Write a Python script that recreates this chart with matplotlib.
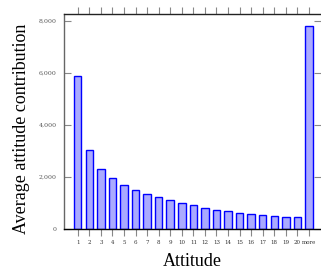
import matplotlib
matplotlib.use("Agg")
import matplotlib.pyplot as plt
from matplotlib.ticker import FuncFormatter

categories = [str(i) for i in range(1, 21)] + ["more"]
values = [5900, 3050, 2320, 1960, 1705, 1510, 1345, 1230, 1100, 1000,
          910, 820, 745, 680, 615, 565, 535, 500, 465, 450, 7810]
yticks = [0, 2000, 4000, 6000, 8000]

fig = plt.figure(figsize=(3.21, 2.68), dpi=100)
ax = fig.add_axes([63.5 / 321, 39 / 268, 1 - 63.5 / 321, 215 / 268])

x = list(range(len(categories)))
ax.bar(x, values, width=0.65, color="#aaaaff", edgecolor="#0000ff", linewidth=1.0)

ax.set_xlim(-1.23, 21.04)
ax.set_ylim(0, 8270)

ax.set_xticks(x)
ax.set_xticklabels(categories, family="DejaVu Serif", fontsize=4)
ax.set_yticks(yticks)
ax.yaxis.set_major_formatter(FuncFormatter(lambda v, p: f"{int(v):,}"))
for lbl in ax.get_yticklabels():
    lbl.set_family("DejaVu Serif")
    lbl.set_fontsize(4.5)

ax.tick_params(axis="x", direction="out", length=5, width=0.8, color="#888888",
               top=True, pad=3, labelcolor="#333333")
ax.tick_params(axis="y", direction="in", length=5, width=0.8, color="#888888",
               right=True, pad=5, labelcolor="#555555")

ax.spines["right"].set_visible(False)
ax.spines["left"].set_color("#666666")
ax.spines["bottom"].set_color("#000000")
ax.spines["top"].set_color("#222222")
for s in ["left", "bottom", "top"]:
    ax.spines[s].set_linewidth(1.0)

fig.text(192.5 / 321, 2.5 / 268, "Attitude", family="Liberation Serif", fontsize=13,
         ha="center", va="baseline")
fig.text(26 / 321, (268 - 129) / 268, "Average attitude contribution",
         family="Liberation Serif", fontsize=13, rotation=90,
         rotation_mode="anchor", ha="center", va="baseline")

fig.savefig("out.png", dpi=100)
